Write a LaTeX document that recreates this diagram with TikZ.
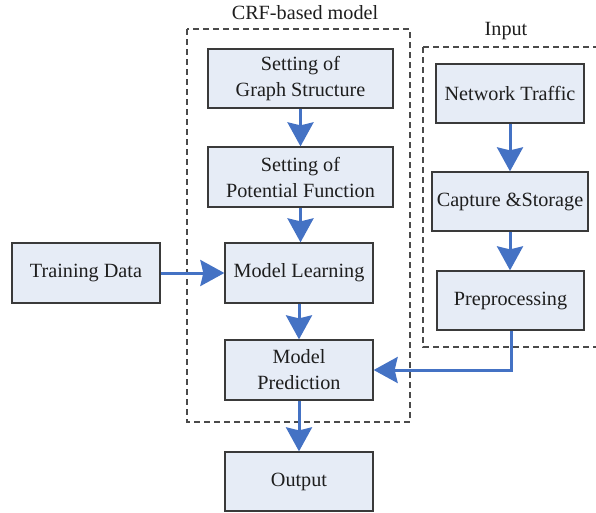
\documentclass[tikz,border=0pt]{standalone}
\usepackage{fontspec}
\setmainfont{Liberation Serif}
\usetikzlibrary{arrows.meta}
\definecolor{boxfill}{HTML}{E6ECF6}
\definecolor{boxline}{HTML}{3A3A3A}
\definecolor{arrblue}{HTML}{4472C4}
\definecolor{dashgray}{HTML}{4A4A4A}
\definecolor{txt}{HTML}{1E1E1E}
\begin{document}
\begin{tikzpicture}[x=1pt,y=-1pt,
  flowbox/.style={draw=boxline, line width=1.3pt, fill=boxfill, text=txt, align=center,
    inner sep=0pt, font=\fontsize{20.2}{26}\selectfont},
  flowarrow/.style={draw=arrblue, line width=3pt, -{Stealth[length=24pt,width=26pt,inset=3pt]}},
  groupbox/.style={draw=dashgray, line width=1.2pt, dash pattern=on 6pt off 4pt},
  grouptitle/.style={text=txt, font=\fontsize{20.2}{26}\selectfont}]
\useasboundingbox (0,0) rectangle (596,512);
% group frames
\draw[groupbox] (187,29) rectangle (410,422);
\draw[groupbox] (423,47) -- (597,47);
\draw[groupbox] (423,47) -- (423,347) -- (597,347);
\node[grouptitle] (crft) at (305,13) {CRF-based model};
\node[grouptitle] (inpt) at (506,31) {Input};
% boxes
\node[flowbox, minimum width=185pt, minimum height=59pt] (g1) at (300.5,78.5) {Setting of\\Graph Structure};
\node[flowbox, minimum width=185pt, minimum height=60pt] (g2) at (300.5,177) {Setting of\\Potential Function};
\node[flowbox, minimum width=148pt, minimum height=60pt] (ml) at (299,273) {Model Learning};
\node[flowbox, minimum width=148pt, minimum height=60pt] (mp) at (299,370) {Model\\Prediction};
\node[flowbox, minimum width=148pt, minimum height=59pt] (out) at (299,481.5) {Output};
\node[flowbox, minimum width=148pt, minimum height=60pt] (td) at (86,273) {Training Data};
\node[flowbox, minimum width=148pt, minimum height=59pt] (nt) at (510,93.5) {Network Traffic};
\node[flowbox, minimum width=156pt, minimum height=59pt] (cs) at (510,201.5) {Capture \&Storage};
\node[flowbox, minimum width=147pt, minimum height=59pt] (pp) at (510.5,300.5) {Preprocessing};
\coordinate (corner) at (511,370);
% arrows
\draw[flowarrow] (g1.south) -- (g2.north);
\draw[flowarrow] (g2.south) -- (g2.south |- ml.north);
\draw[flowarrow] (ml.south) -- (mp.north);
\draw[flowarrow] (mp.south) -- (out.north);
\draw[flowarrow] (td.east) -- (ml.west);
\draw[flowarrow] (nt.south) -- (cs.north);
\draw[flowarrow] (cs.south) -- (cs.south |- pp.north);
\draw[flowarrow] (pp.south -| corner) -- (corner) -- (mp.east);
\end{tikzpicture}
\end{document}
